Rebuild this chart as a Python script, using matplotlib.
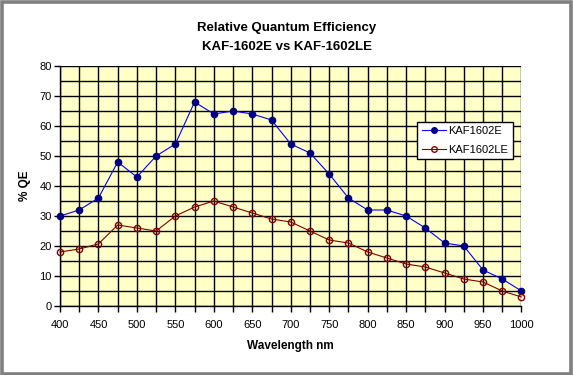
import matplotlib
matplotlib.use("Agg")
import matplotlib.pyplot as plt
from matplotlib.patches import Rectangle
from matplotlib.ticker import MultipleLocator

wavelength = [400, 425, 450, 475, 500, 525, 550, 575, 600, 625, 650, 675, 700,
              725, 750, 775, 800, 825, 850, 875, 900, 925, 950, 975, 1000]
kaf1602e = [30, 32, 36, 48, 43, 50, 54, 68, 64, 65, 64, 62, 54,
            51, 44, 36, 32, 32, 30, 26, 21, 20, 12, 9, 5]
kaf1602le = [18, 19, 20.7, 27, 26, 25, 30, 33, 35, 33, 31, 29, 28,
             25, 22, 21, 18, 16, 14, 13, 11, 9, 8, 5, 3]
title_lines = ["Relative Quantum Efficiency", "KAF-1602E vs KAF-1602LE"]
series_names = ["KAF1602E", "KAF1602LE"]

plt.rcParams['font.family'] = ['Liberation Sans', 'DejaVu Sans']

fig = plt.figure(figsize=(5.73, 3.75), dpi=100)
fig.patch.set_facecolor('white')
fig.patches.append(Rectangle((0.003, 0.004), 0.994, 0.991, transform=fig.transFigure,
                             fill=False, edgecolor='#808080', linewidth=2.6, zorder=0))

ax = fig.add_axes([0.1047, 0.184, 0.8054, 0.640])
ax.set_facecolor('#FFFFC8')

ax.plot(wavelength, kaf1602e, color='#0000FF', linewidth=0.8, marker='o',
        markersize=4.5, markerfacecolor='#000080', markeredgecolor='#000080',
        label=series_names[0], zorder=3, clip_on=False)
ax.plot(wavelength, kaf1602le, color='#800000', linewidth=0.8, marker='o',
        markersize=4.5, markerfacecolor='none', markeredgecolor='#800000',
        markeredgewidth=1.0, label=series_names[1], zorder=3, clip_on=False)

ax.set_xlim(400, 1000)
ax.set_ylim(0, 80)
ax.xaxis.set_major_locator(MultipleLocator(50))
ax.xaxis.set_minor_locator(MultipleLocator(25))
ax.yaxis.set_major_locator(MultipleLocator(10))
ax.yaxis.set_minor_locator(MultipleLocator(5))
ax.grid(which='both', color='black', linewidth=1.0)
ax.set_axisbelow(True)
ax.tick_params(axis='x', which='both', direction='out', length=4, width=1,
               labelsize=8, pad=6)
ax.tick_params(axis='y', which='major', direction='out', length=4, width=1,
               labelsize=8, pad=2)
ax.tick_params(axis='y', which='minor', length=0)
for s in ['top', 'right']:
    ax.spines[s].set_visible(False)
for s in ['left', 'bottom']:
    ax.spines[s].set_linewidth(1.0)

ax.set_xlabel("Wavelength nm", fontsize=8.5, fontweight='bold', labelpad=7)
ax.set_ylabel("% QE", fontsize=8.5, fontweight='bold', labelpad=6)

fig.text(0.5, 0.926, title_lines[0], ha='center', va='center',
         fontsize=9.5, fontweight='bold')
fig.text(0.5, 0.874, title_lines[1], ha='center', va='center',
         fontsize=9.5, fontweight='bold')

leg = ax.legend(loc='upper left', bbox_to_anchor=(0.774, 0.767), fontsize=8,
                frameon=True, fancybox=False, edgecolor='black', framealpha=1,
                handlelength=2.2, borderpad=0.4, labelspacing=0.75,
                handletextpad=0.2, borderaxespad=0)
leg.get_frame().set_linewidth(1.0)
for h in leg.legend_handles:
    h.set_markersize(4)

fig.savefig("out.png", dpi=100, facecolor=fig.get_facecolor())
